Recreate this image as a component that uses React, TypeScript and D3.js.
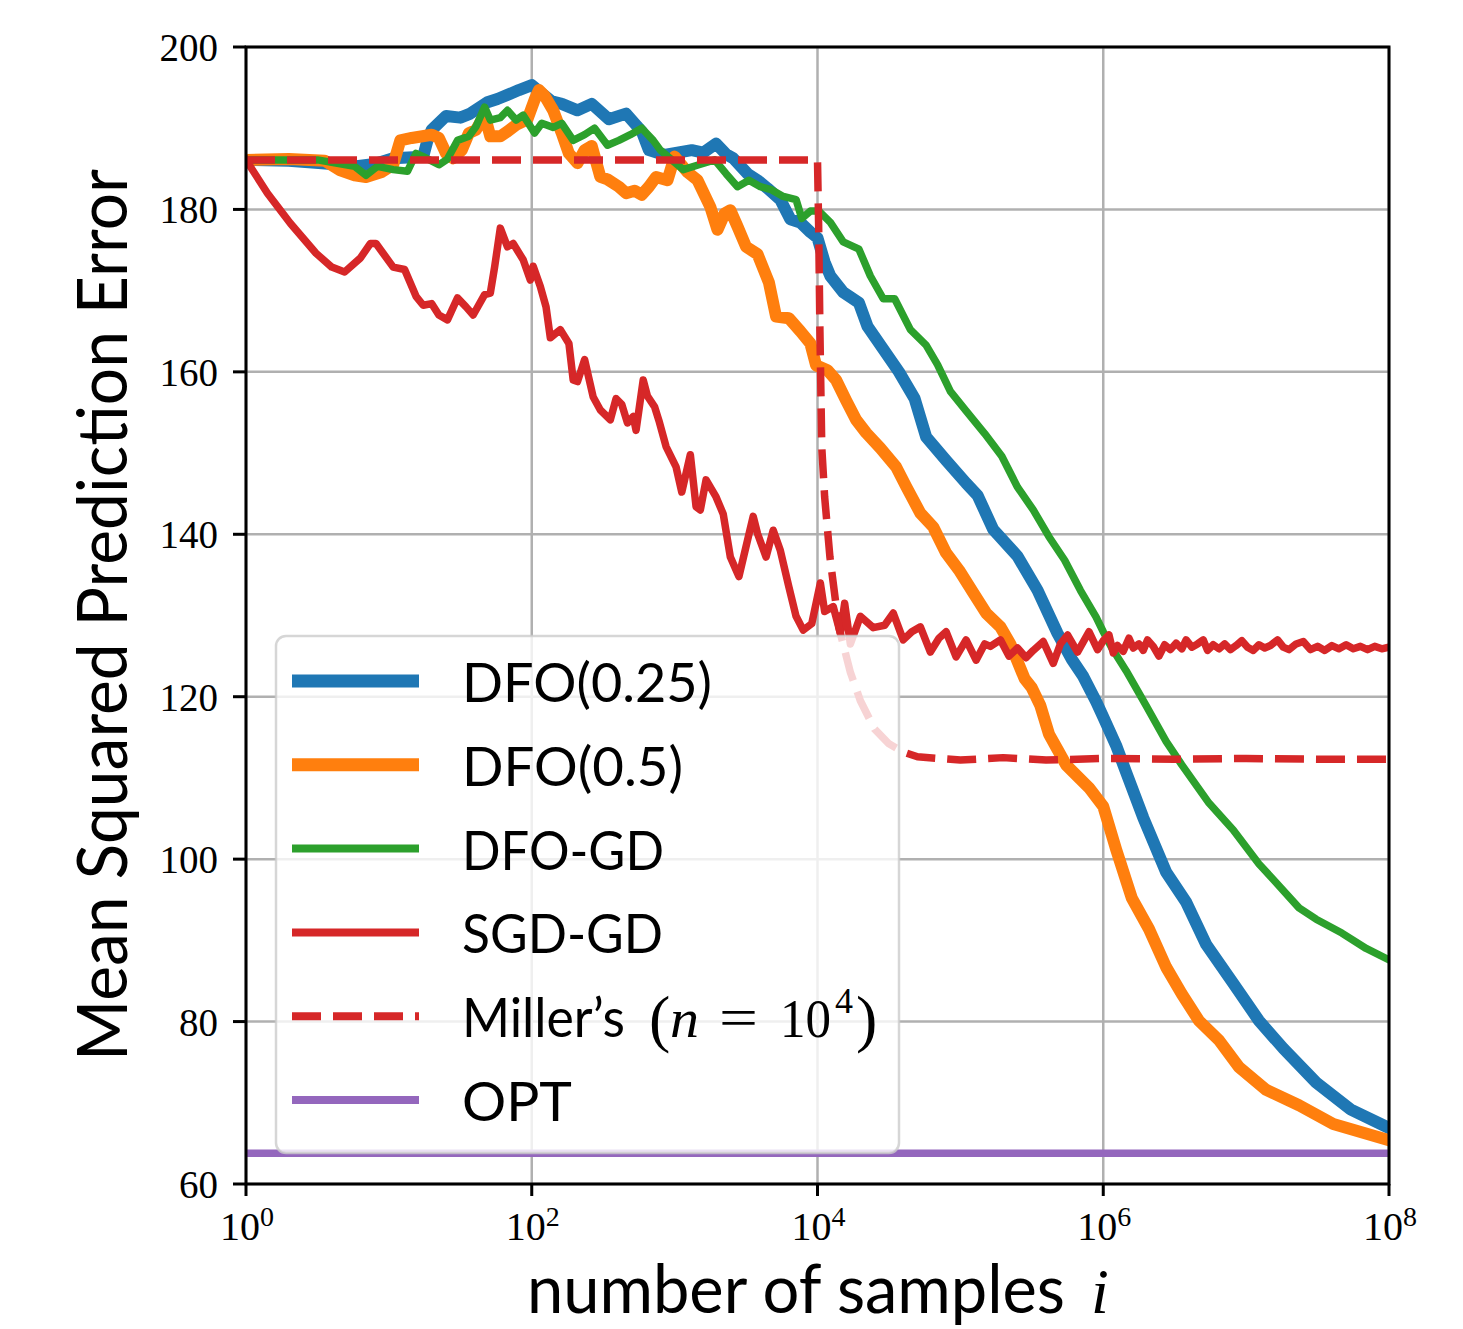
import React from 'react';
import * as d3 from 'd3';

const W = 1463;
const H = 1329;
const PLOT = { left: 246, right: 1389, top: 47, bottom: 1184 };

// axis ticks
const xTickExps = [0, 2, 4, 6, 8];
const yTicks = [60, 80, 100, 120, 140, 160, 180, 200];

// series: [log10(number of samples), mean squared prediction error]
const dfo025: [number, number][] = [
  [0, 186.1], [0.3, 186.0], [0.6, 185.6], [0.76, 185.3], [0.9, 185.6], [1.03, 186.3], [1.24, 186.5],
  [1.27, 188.5], [1.3, 189.8], [1.4, 191.5], [1.5, 191.3], [1.57, 191.8], [1.69, 193.2], [1.76, 193.6],
  [1.83, 194.1], [1.91, 194.7], [2.0, 195.3], [2.07, 194.3], [2.14, 193.3], [2.21, 193.0], [2.32, 192.2],
  [2.42, 193.0], [2.54, 191.1], [2.66, 191.8], [2.72, 190.6], [2.77, 189.6], [2.82, 187.3], [2.93, 186.7],
  [3.02, 187.0], [3.12, 187.3], [3.2, 187.0], [3.29, 188.1], [3.36, 186.8], [3.41, 186.3], [3.51, 184.4],
  [3.58, 183.6], [3.65, 182.6], [3.74, 181.2], [3.81, 178.8], [3.88, 178.4], [3.95, 177.2], [4.0, 176.5],
  [4.05, 173.5], [4.09, 171.8], [4.18, 169.8], [4.29, 168.5], [4.35, 165.6], [4.46, 162.8], [4.57, 160.0],
  [4.68, 156.7], [4.76, 152.0], [4.9, 149.1], [5.04, 146.3], [5.12, 144.8], [5.23, 140.6], [5.4, 137.3],
  [5.54, 133.1], [5.68, 127.8], [5.78, 124.6], [5.86, 122.5], [5.95, 119.4], [6.0, 117.5], [6.09, 114.0],
  [6.16, 110.7], [6.28, 105.1], [6.44, 98.4], [6.58, 94.7], [6.72, 89.5], [6.91, 84.7], [7.09, 80.1],
  [7.26, 76.7], [7.49, 72.5], [7.73, 69.2], [8.0, 66.9],
];

const dfo05: [number, number][] = [
  [0, 186.1], [0.3, 186.2], [0.55, 186.0], [0.66, 184.8], [0.76, 184.2], [0.84, 184.0], [0.95, 184.6],
  [1.03, 185.5], [1.08, 188.5], [1.16, 188.8], [1.3, 189.2], [1.35, 188.8], [1.4, 186.9], [1.45, 186.3],
  [1.51, 187.3], [1.56, 189.4], [1.61, 189.8], [1.67, 191.6], [1.71, 189.0], [1.78, 189.0], [1.83, 189.6],
  [1.89, 190.4], [1.97, 191.1], [2.02, 193.5], [2.05, 194.7], [2.09, 194.0], [2.15, 192.2], [2.21, 189.4],
  [2.26, 186.9], [2.32, 185.7], [2.37, 187.3], [2.42, 187.8], [2.48, 184.0], [2.53, 183.7], [2.61, 182.8],
  [2.66, 182.0], [2.72, 182.3], [2.77, 181.8], [2.82, 182.8], [2.87, 184.0], [2.95, 183.6], [3.0, 186.5],
  [3.09, 184.6], [3.16, 183.6], [3.25, 180.3], [3.3, 177.5], [3.35, 179.5], [3.39, 179.9], [3.44, 177.9],
  [3.5, 175.4], [3.58, 174.5], [3.66, 171.0], [3.71, 166.8], [3.8, 166.6], [3.88, 165.0], [3.95, 163.5],
  [3.99, 160.8], [4.07, 160.2], [4.13, 159.0], [4.2, 156.5], [4.27, 154.1], [4.34, 152.5], [4.44, 150.6],
  [4.55, 148.3], [4.62, 145.9], [4.72, 142.6], [4.81, 140.9], [4.9, 137.7], [4.99, 135.6], [5.09, 132.8],
  [5.18, 130.3], [5.28, 128.6], [5.35, 126.5], [5.45, 122.2], [5.5, 121.1], [5.56, 118.9], [5.62, 115.4],
  [5.68, 113.5], [5.74, 111.6], [5.9, 108.8], [6.0, 106.5], [6.09, 101.2], [6.2, 95.2], [6.32, 91.4],
  [6.44, 86.7], [6.55, 83.4], [6.67, 80.1], [6.81, 77.7], [6.95, 74.4], [7.14, 71.6], [7.37, 69.7],
  [7.61, 67.4], [8.0, 65.4],
];

const dfoGd: [number, number][] = [
  [0, 186.1], [0.5, 186.1], [0.6, 185.8], [0.76, 185.3], [0.84, 184.2], [0.92, 185.3], [1.03, 184.9],
  [1.13, 184.7], [1.19, 186.9], [1.24, 186.5], [1.35, 185.5], [1.41, 186.2], [1.48, 188.5], [1.56, 189.0],
  [1.61, 190.2], [1.67, 192.6], [1.71, 191.0], [1.78, 191.3], [1.83, 192.2], [1.89, 191.0], [1.94, 191.6],
  [2.02, 189.4], [2.07, 190.6], [2.15, 190.1], [2.21, 190.6], [2.29, 188.5], [2.37, 189.2], [2.44, 190.0],
  [2.53, 187.9], [2.61, 188.5], [2.69, 189.2], [2.77, 190.0], [2.85, 188.5], [2.9, 187.3], [2.98, 186.1],
  [3.06, 184.9], [3.17, 185.5], [3.28, 186.1], [3.36, 184.4], [3.44, 182.8], [3.52, 183.6], [3.6, 182.8],
  [3.68, 182.4], [3.76, 181.6], [3.85, 181.2], [3.89, 178.9], [3.95, 179.8], [4.01, 179.8], [4.09, 178.4],
  [4.18, 176.0], [4.29, 175.1], [4.37, 171.8], [4.46, 169.0], [4.54, 169.0], [4.65, 165.2], [4.76, 163.3],
  [4.84, 160.9], [4.93, 157.6], [5.04, 155.2], [5.17, 152.4], [5.29, 149.6], [5.4, 145.8], [5.51, 143.0],
  [5.62, 139.7], [5.73, 136.8], [5.84, 133.1], [5.95, 129.8], [6.0, 128.0], [6.06, 126.0], [6.16, 123.2],
  [6.3, 118.9], [6.44, 114.5], [6.55, 111.6], [6.74, 106.9], [6.91, 103.6], [7.09, 99.4], [7.19, 97.5],
  [7.37, 94.0], [7.49, 92.6], [7.67, 90.9], [7.84, 89.0], [8.0, 87.6],
];

const sgdGd: [number, number][] = [
  [0, 186.1], [0.15, 182.0], [0.31, 178.3], [0.49, 174.6], [0.6, 172.9], [0.69, 172.3], [0.8, 174.0],
  [0.87, 175.8], [0.91, 175.8], [1.03, 172.9], [1.11, 172.6], [1.19, 169.3], [1.24, 168.2], [1.3, 168.4],
  [1.35, 167.0], [1.41, 166.4], [1.48, 169.1], [1.54, 168.0], [1.59, 167.0], [1.67, 169.5], [1.71, 169.7],
  [1.74, 172.9], [1.78, 177.7], [1.83, 175.4], [1.87, 175.8], [1.94, 173.8], [1.99, 171.3], [2.01, 173.0],
  [2.06, 170.5], [2.1, 168.0], [2.13, 164.2], [2.2, 165.2], [2.26, 163.5], [2.29, 159.0], [2.32, 158.8],
  [2.37, 161.5], [2.43, 156.9], [2.48, 155.3], [2.55, 154.1], [2.59, 156.7], [2.63, 156.0], [2.67, 153.7],
  [2.71, 154.5], [2.73, 152.8], [2.78, 159.0], [2.81, 157.0], [2.86, 155.7], [2.89, 154.0], [2.94, 150.8],
  [3.01, 148.3], [3.05, 145.2], [3.11, 149.8], [3.15, 143.4], [3.18, 143.0], [3.22, 146.7], [3.29, 144.6],
  [3.34, 142.5], [3.39, 137.2], [3.45, 134.8], [3.5, 138.5], [3.55, 142.2], [3.58, 140.1], [3.64, 137.2],
  [3.69, 140.5], [3.74, 138.0], [3.8, 133.5], [3.85, 129.9], [3.9, 128.2], [3.96, 129.0], [4.02, 134.0],
  [4.05, 130.5], [4.11, 131.1], [4.16, 127.8], [4.19, 131.5], [4.23, 126.5], [4.3, 129.9], [4.39, 128.5],
  [4.47, 128.8], [4.53, 130.3], [4.6, 127.0], [4.66, 128.0], [4.72, 128.6], [4.79, 125.5], [4.85, 127.2],
  [4.9, 128.0], [4.97, 124.9], [5.04, 127.0], [5.11, 124.5], [5.17, 126.5], [5.21, 126.2], [5.28, 127.0],
  [5.34, 125.0], [5.4, 126.0], [5.46, 124.8], [5.51, 125.7], [5.58, 126.8], [5.65, 124.1], [5.7, 126.5],
  [5.75, 127.6], [5.82, 125.5], [5.9, 128.0], [5.96, 125.8], [6.0, 126.9], [6.04, 127.6], [6.07, 125.4],
  [6.1, 126.3], [6.14, 125.6], [6.18, 127.2], [6.21, 126.0], [6.25, 126.5], [6.28, 125.7], [6.31, 127.0],
  [6.35, 126.2], [6.39, 125.0], [6.43, 126.4], [6.47, 125.8], [6.51, 126.6], [6.55, 125.9], [6.58, 127.0],
  [6.62, 126.1], [6.66, 126.5], [6.7, 127.0], [6.73, 125.7], [6.77, 126.4], [6.81, 125.9], [6.85, 126.5],
  [6.89, 125.8], [6.93, 126.3], [6.97, 126.9], [7.01, 126.1], [7.05, 125.7], [7.09, 126.4], [7.13, 126.0],
  [7.17, 126.3], [7.22, 127.0], [7.26, 126.1], [7.3, 125.8], [7.35, 126.5], [7.4, 126.8], [7.45, 125.8],
  [7.5, 126.2], [7.55, 125.7], [7.6, 126.3], [7.65, 125.9], [7.7, 126.4], [7.75, 125.9], [7.8, 126.2],
  [7.85, 125.8], [7.9, 126.2], [7.95, 125.9], [8.0, 126.1],
];

const millers: [number, number][] = [
  [0, 186.1], [4.0, 186.1], [4.008, 178.0], [4.017, 165.0], [4.03, 150.7], [4.05, 144.6], [4.087, 137.2],
  [4.15, 128.5], [4.23, 123.0], [4.3, 119.5], [4.4, 116.0], [4.5, 114.2], [4.6, 113.2], [4.7, 112.6],
  [5.0, 112.2], [5.3, 112.5], [5.6, 112.2], [6.0, 112.4], [6.5, 112.3], [7.0, 112.4], [7.5, 112.3], [8.0, 112.3],
];

const opt: [number, number][] = [[0, 63.8], [8, 63.8]];

const seriesNames = ['DFO(0.25)', 'DFO(0.5)', 'DFO-GD', 'SGD-GD', 'Miller\u2019s', 'OPT'];
const seriesColors = ['#1f77b4', '#ff7f0e', '#2ca02c', '#d62728', '#d62728', '#9467bd'];
const seriesWidths = [12, 12, 7.5, 7.5, 7.5, 7.5];
const seriesData = [dfo025, dfo05, dfoGd, sgdGd, millers, opt];

const SANS = 'Lato, "Open Sans", "DejaVu Sans", sans-serif';
const SERIF = '"Liberation Serif", "DejaVu Serif", serif';

export default function App() {
  const x = d3.scaleLog().domain([1, 1e8]).range([PLOT.left, PLOT.right]);
  const y = d3.scaleLinear().domain([60, 200]).range([PLOT.bottom, PLOT.top]);
  const line = d3
    .line<[number, number]>()
    .x((d) => x(Math.pow(10, d[0])))
    .y((d) => y(d[1]));

  const legendTop = 681;
  const legendStep = 83.8;
  const legendTextWidths = [250, 221, 202, 201, 163, 110];
  const millerBase = legendTop + 4 * legendStep + 21;

  return (
    <div style={{ position: 'absolute', left: 0, top: 0 }}>
      <svg width={W} height={H} viewBox={`0 0 ${W} ${H}`} style={{ display: 'block', background: '#fff' }}>
        <defs>
          <clipPath id="plotClip">
            <rect x={PLOT.left} y={PLOT.top} width={PLOT.right - PLOT.left} height={PLOT.bottom - PLOT.top} />
          </clipPath>
        </defs>
        <rect x={0} y={0} width={W} height={H} fill="#fff" />

        {/* grid */}
        <g stroke="#b0b0b0" strokeWidth={2.5}>
          {xTickExps.map((e) => (
            <line key={'gx' + e} x1={x(Math.pow(10, e))} x2={x(Math.pow(10, e))} y1={PLOT.top} y2={PLOT.bottom} />
          ))}
          {yTicks.map((v) => (
            <line key={'gy' + v} x1={PLOT.left} x2={PLOT.right} y1={y(v)} y2={y(v)} />
          ))}
        </g>

        {/* series */}
        <g clipPath="url(#plotClip)" fill="none" strokeLinejoin="round">
          {seriesData.map((data, i) => (
            <path
              key={seriesNames[i]}
              d={line(data) || ''}
              stroke={seriesColors[i]}
              strokeWidth={seriesWidths[i]}
              strokeDasharray={i === 4 ? '29 12' : undefined}
              strokeLinecap={i === 4 ? 'butt' : 'square'}
            />
          ))}
        </g>

        {/* spines */}
        <rect
          x={PLOT.left}
          y={PLOT.top}
          width={PLOT.right - PLOT.left}
          height={PLOT.bottom - PLOT.top}
          fill="none"
          stroke="#000"
          strokeWidth={3}
        />

        {/* ticks */}
        <g stroke="#000" strokeWidth={3}>
          {xTickExps.map((e) => (
            <line key={'tx' + e} x1={x(Math.pow(10, e))} x2={x(Math.pow(10, e))} y1={PLOT.bottom} y2={PLOT.bottom + 12} />
          ))}
          {yTicks.map((v) => (
            <line key={'ty' + v} x1={PLOT.left - 13} x2={PLOT.left} y1={y(v)} y2={y(v)} />
          ))}
        </g>

        {/* tick labels */}
        <g fontFamily={SERIF} fill="#000">
          {yTicks.map((v) => (
            <text key={'ly' + v} x={218} y={y(v) + 14} fontSize={39} textAnchor="end">
              {v}
            </text>
          ))}
          {xTickExps.map((e) => (
            <text key={'lx' + e} x={x(Math.pow(10, e)) + 1} y={1240} fontSize={40} textAnchor="middle">
              10
              <tspan fontSize={28} dy={-14}>
                {e}
              </tspan>
            </text>
          ))}
        </g>

        {/* axis labels */}
        <text
          x={0}
          y={0}
          transform={`translate(127, 615) rotate(-90)`}
          fontFamily={SANS}
          fontSize={70}
          textAnchor="middle"
          textLength={892}
          lengthAdjust="spacingAndGlyphs"
        >
          Mean Squared Prediction Error
        </text>
        <text x={527} y={1313} fontFamily={SANS} fontSize={68} textLength={538} lengthAdjust="spacingAndGlyphs">
          number of samples
        </text>
        <text x={1091} y={1313} fontFamily={SERIF} fontStyle="italic" fontSize={64}>
          i
        </text>

        {/* legend */}
        <rect
          x={276}
          y={636}
          width={623}
          height={517}
          rx={10}
          ry={10}
          fill="#fff"
          fillOpacity={0.8}
          stroke="#cccccc"
          strokeOpacity={0.8}
          strokeWidth={2.5}
        />
        {seriesNames.map((name, i) => {
          const cy = legendTop + i * legendStep;
          return (
            <g key={'lg' + name}>
              <line
                x1={292}
                x2={419}
                y1={cy}
                y2={cy}
                stroke={seriesColors[i]}
                strokeWidth={i < 2 ? 13 : 8}
                strokeDasharray={i === 4 ? '29 12' : undefined}
              />
              <text
                x={462}
                y={cy + 21}
                fontFamily={SANS}
                fontSize={55}
                textLength={legendTextWidths[i]}
                lengthAdjust="spacingAndGlyphs"
              >
                {name}
              </text>
            </g>
          );
        })}
        {/* math part of Miller's label */}
        <g fontFamily={SERIF} fontSize={55}>
          <text x={649} y={millerBase + 3} fontSize={64}>(</text>
          <text x={670} y={millerBase} fontStyle="italic" textLength={29} lengthAdjust="spacingAndGlyphs">n</text>
          <text x={719} y={millerBase - 1} textLength={39} lengthAdjust="spacingAndGlyphs">=</text>
          <text x={780} y={millerBase} textLength={51} lengthAdjust="spacingAndGlyphs">10</text>
          <text x={835} y={millerBase - 24} fontSize={36}>4</text>
          <text x={856} y={millerBase + 3} fontSize={64}>)</text>
        </g>
      </svg>
    </div>
  );
}
